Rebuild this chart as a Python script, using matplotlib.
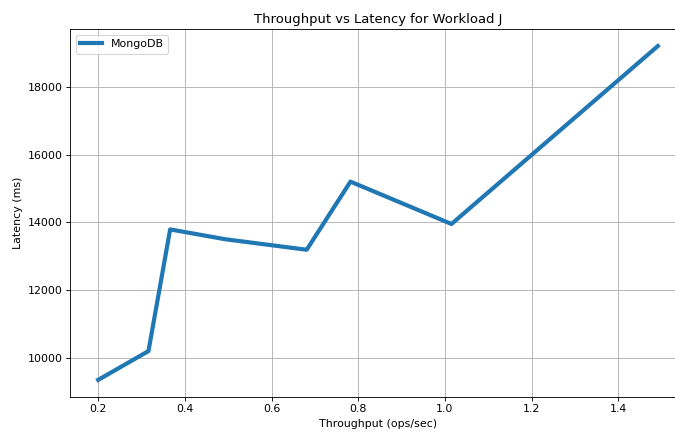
import numpy as np
import matplotlib.pyplot as plt

# throughput (ops/sec) and latency (ms) for the MongoDB run
throughput = [0.200, 0.316, 0.366, 0.493, 0.681, 0.782, 1.015, 1.491]
latency = [9350, 10200, 13790, 13500, 13190, 15200, 13950, 19200]

dpi = 79
fig = plt.figure(figsize=(675 / dpi, 432 / dpi), dpi=dpi)
ax = fig.add_axes([0.104, 0.082, 0.912, 0.850])

ax.plot(throughput, latency, linewidth=3.8, color='#1f77b4', label='MongoDB')
ax.set_title("Throughput vs Latency for Workload J")
ax.set_xlabel("Throughput (ops/sec)")
ax.set_ylabel("Latency (ms)")
ax.grid(True)
ax.legend(loc='upper left')

fig.savefig('out.png', dpi=dpi)
